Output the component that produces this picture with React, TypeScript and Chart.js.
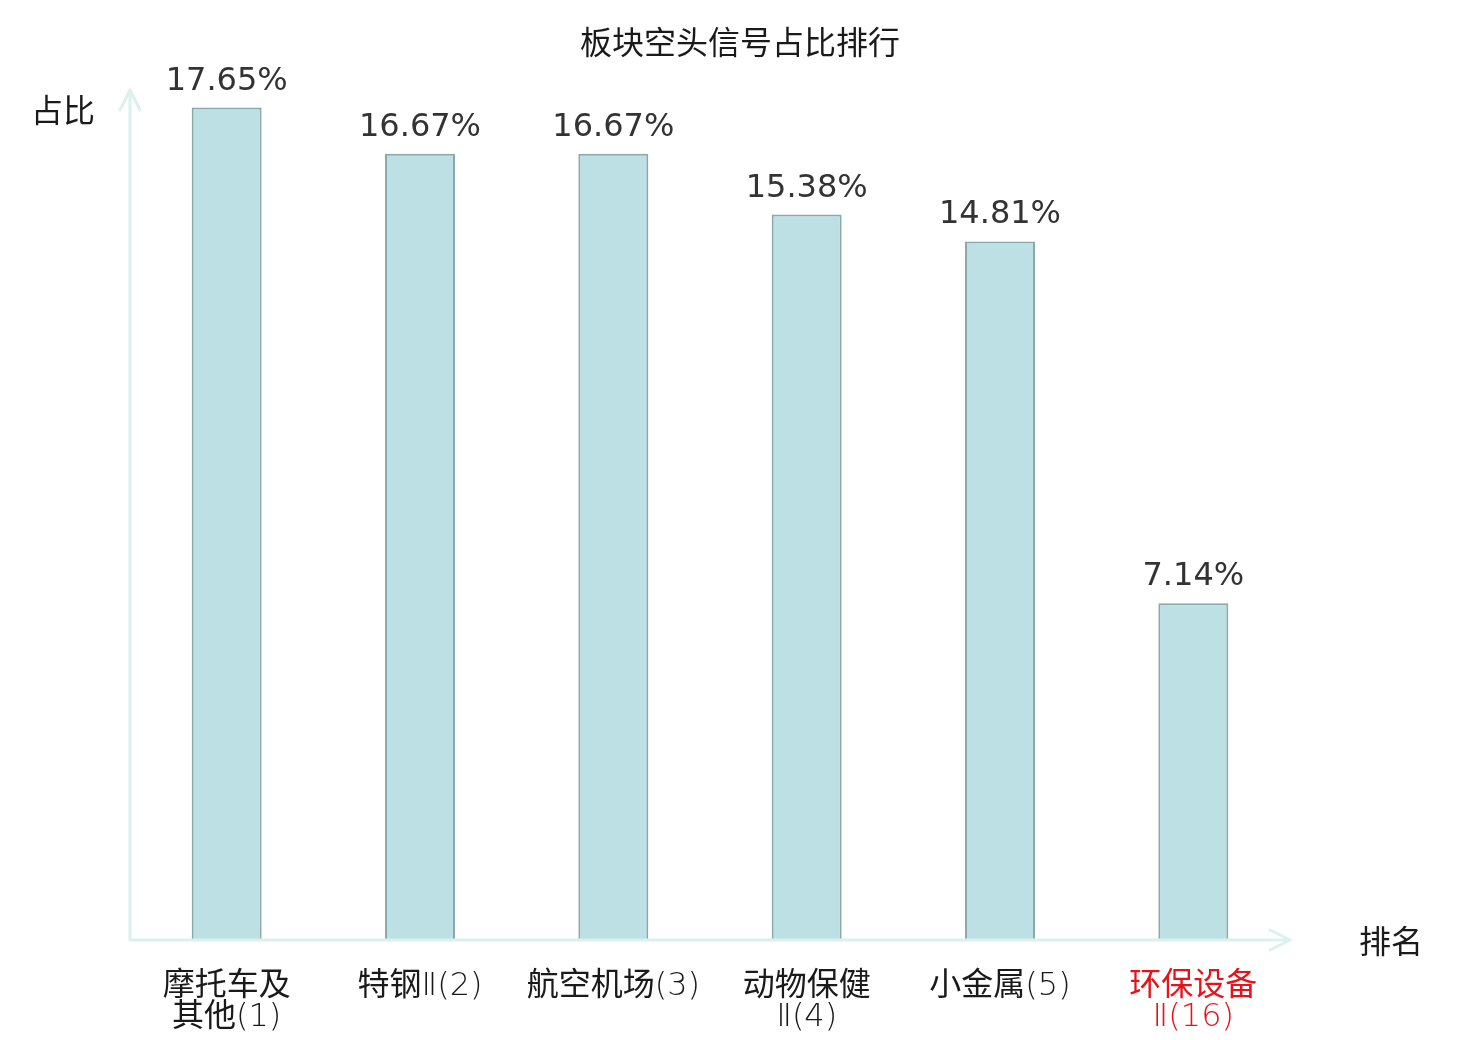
import React, { useEffect, useRef } from "react";
import { Chart, registerables } from "chart.js";

Chart.register(...registerables);

const categories: string[][] = [
  ["摩托车及", "其他(1)"],
  ["特钢Ⅱ(2)"],
  ["航空机场(3)"],
  ["动物保健", "Ⅱ(4)"],
  ["小金属(5)"],
  ["环保设备", "Ⅱ(16)"],
];
const values: number[] = [17.65, 16.67, 16.67, 15.38, 14.81, 7.14];
const valueLabels: string[] = ["17.65%", "16.67%", "16.67%", "15.38%", "14.81%", "7.14%"];
const highlighted: boolean[] = [false, false, false, false, false, true];
const titleText = "板块空头信号占比排行";
const yName = "占比";
const xName = "排名";

const AXIS_COLOR = "#dcf1ee";
const CJK = "'Noto Sans CJK SC'";
const CJK_FONT = `400 32px ${CJK}`;
const LATIN_FONT = `200 32px 'DejaVu Sans', ${CJK}`;

function isCJK(ch: string) {
  const c = ch.charCodeAt(0);
  return c >= 0x2e80;
}

function drawMixed(ctx: CanvasRenderingContext2D, text: string, cx: number, baseline: number) {
  const runs: { t: string; cjk: boolean }[] = [];
  for (const ch of text) {
    const k = isCJK(ch);
    if (runs.length && runs[runs.length - 1].cjk === k) runs[runs.length - 1].t += ch;
    else runs.push({ t: ch, cjk: k });
  }
  let total = 0;
  const widths = runs.map((r) => {
    ctx.font = r.cjk ? CJK_FONT : LATIN_FONT;
    const w = ctx.measureText(r.t).width;
    total += w;
    return w;
  });
  let x = cx - total / 2;
  ctx.textAlign = "left";
  ctx.textBaseline = "alphabetic";
  runs.forEach((r, i) => {
    ctx.font = r.cjk ? CJK_FONT : LATIN_FONT;
    ctx.fillText(r.t, x, baseline);
    x += widths[i];
  });
  ctx.textAlign = "center";
}

const overlay = {
  id: "overlay",
  afterDraw(chart: any) {
    const ctx = chart.ctx as CanvasRenderingContext2D;
    const xs = chart.scales.x;
    const ys = chart.scales.y;
    const left = xs.left;
    const right = xs.right;
    const bottom = ys.getPixelForValue(0);
    const top = ys.top;
    ctx.save();
    // axes
    ctx.strokeStyle = AXIS_COLOR;
    ctx.lineWidth = 3;
    ctx.lineCap = "round";
    ctx.lineJoin = "round";
    ctx.beginPath();
    ctx.moveTo(left, bottom);
    ctx.lineTo(left, top - 1);
    ctx.moveTo(left, bottom);
    ctx.lineTo(right, bottom);
    ctx.stroke();
    // arrows
    ctx.beginPath();
    ctx.moveTo(left - 10, top + 19);
    ctx.lineTo(left, top - 1);
    ctx.lineTo(left + 10, top + 19);
    ctx.moveTo(right - 20, bottom - 10);
    ctx.lineTo(right, bottom);
    ctx.lineTo(right - 20, bottom + 10);
    ctx.stroke();

    // title
    ctx.fillStyle = "#1a1a1a";
    ctx.textAlign = "center";
    ctx.textBaseline = "middle";
    ctx.font = `32px ${CJK}`;
    ctx.fillText(titleText, 740, 42);

    // axis names
    ctx.font = `32px ${CJK}`;
    ctx.fillText(yName, 63, 110);
    ctx.fillText(xName, 1391, 941);

    // value labels
    const meta = chart.getDatasetMeta(0);
    ctx.font = `32px 'DejaVu Sans'`;
    ctx.fillStyle = "#333333";
    ctx.textBaseline = "alphabetic";
    meta.data.forEach((bar: any, i: number) => {
      ctx.fillText(valueLabels[i], bar.x, bar.y - 18);
    });

    // category labels
    categories.forEach((lines, i) => {
      const x = xs.getPixelForTick(i);
      ctx.fillStyle = highlighted[i] ? "#e8121a" : "#1a1a1a";
      lines.forEach((ln, j) => {
        drawMixed(ctx, ln, x, 995 + j * 31);
      });
    });
    ctx.restore();
  },
};

export default function App() {
  const ref = useRef<HTMLCanvasElement | null>(null);
  useEffect(() => {
    if (!ref.current) return;
    const chart = new Chart(ref.current, {
      type: "bar",
      data: {
        labels: categories.map((c) => c.join("")),
        datasets: [
          {
            data: values,
            backgroundColor: "#bce0e3",
            borderColor: "#8ca9a9",
            borderWidth: 2,
            categoryPercentage: 1,
            barPercentage: 0.362,
          },
        ],
      },
      options: {
        animation: false,
        responsive: false,
        devicePixelRatio: 1,
        layout: { padding: { left: 130, right: 190, top: 91, bottom: 100 } },
        plugins: { legend: { display: false }, title: { display: false }, tooltip: { enabled: false } },
        scales: {
          x: { display: false },
          y: { display: false, min: 0, max: 18 },
        },
      },
      plugins: [overlay],
    });
    return () => chart.destroy();
  }, []);
  return (
    <div style={{ position: "fixed", left: 0, top: 0, width: 1480, height: 1040, background: "#fff" }}>
      <canvas ref={ref} width={1480} height={1040} style={{ width: 1480, height: 1040 }} />
    </div>
  );
}
